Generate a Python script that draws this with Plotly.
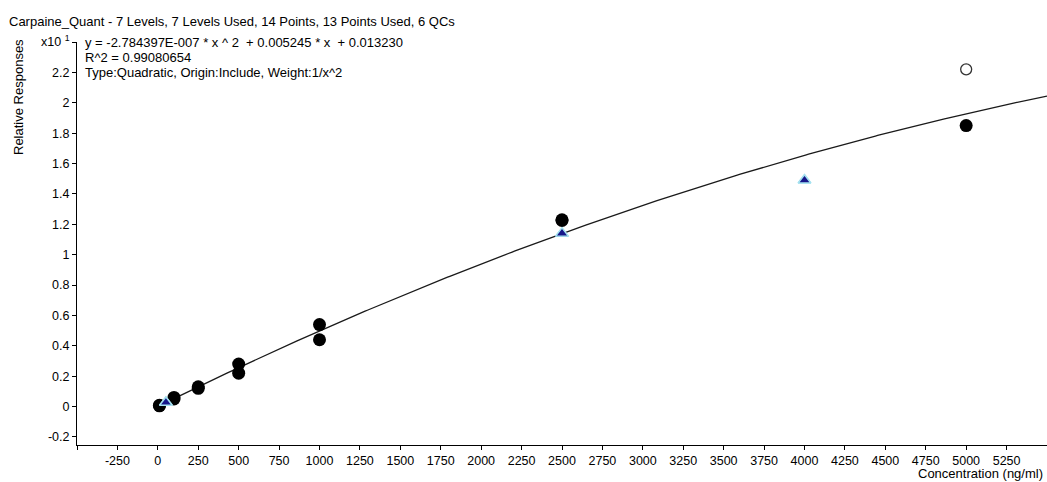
import numpy as np
import plotly.graph_objects as go

# Calibration levels (ng/ml) and relative responses (x10^1 display units)
cal_conc = [10, 10, 100, 100, 250, 250, 500, 500, 1000, 1000, 2500, 2500, 5000]
cal_resp = [0.005, 0.008, 0.060, 0.050, 0.120, 0.130, 0.280, 0.220, 0.540, 0.440, 1.230, 1.225, 1.850]

# Excluded calibration point
excl_conc = [5000]
excl_resp = [2.220]

# QC samples
qc_conc = [50, 50, 2500, 2500, 4000, 4000]
qc_resp = [0.027, 0.027, 1.140, 1.140, 1.490, 1.490]

# Quadratic fit coefficients: y = a*x^2 + b*x + c (raw units)
fit_a = -2.784397e-07
fit_b = 0.005245
fit_c = 0.013230
display_scale = 10.0

x_ticks = list(range(-500, 5251, 250))
x_labels = [""] + [str(v) for v in range(-250, 5251, 250)]
y_ticks = [-0.2, 0, 0.2, 0.4, 0.6, 0.8, 1, 1.2, 1.4, 1.6, 1.8, 2, 2.2, 2.4]
y_labels = ["-0.2", "0", "0.2", "0.4", "0.6", "0.8", "1", "1.2", "1.4", "1.6",
            "1.8", "2", "2.2", "x10 <sup>1</sup>"]

title_text = "Carpaine_Quant - 7 Levels, 7 Levels Used, 14 Points, 13 Points Used, 6 QCs"
eq_lines = [
    "y = -2.784397E-007 * x ^ 2\u00a0 + 0.005245 * x\u00a0 + 0.013230",
    "R^2 = 0.99080654",
    "Type:Quadratic, Origin:Include, Weight:1/x^2",
]

W, H = 1047, 482
L, R, T, B = 77, 0, 42, 37
pw, ph = W - L - R, H - T - B


def px(x):
    return (x - L) / pw


def py(y):
    return (H - B - y) / ph


fx = np.linspace(0, 5500, 400)
fy = (fit_a * fx ** 2 + fit_b * fx + fit_c) / display_scale

font = "Liberation Sans, Arial, sans-serif"

fig = go.Figure()
fig.add_trace(go.Scatter(x=fx, y=fy, mode="lines",
                         line=dict(color="#1a1a1a", width=1.3), hoverinfo="skip"))
fig.add_trace(go.Scatter(x=cal_conc, y=cal_resp, mode="markers",
                         marker=dict(symbol="circle", size=13, color="#000000",
                                     line=dict(width=0))))
fig.add_trace(go.Scatter(x=excl_conc, y=excl_resp, mode="markers",
                         marker=dict(symbol="circle", size=11, color="#ffffff",
                                     line=dict(width=1.3, color="#333333"))))
fig.add_trace(go.Scatter(x=qc_conc, y=qc_resp, mode="markers",
                         marker=dict(symbol="triangle-up", size=11, color="#16168a",
                                     line=dict(width=1.4, color="#a6e2f0"))))

annotations = [
    dict(text=title_text, x=px(7), y=py(22), xanchor="left", yanchor="middle"),
    dict(text="Relative Responses", x=px(19), y=py(97), xanchor="center",
         yanchor="middle", textangle=-90),
    dict(text="Concentration (ng/ml)", x=px(1045), y=py(473), xanchor="right",
         yanchor="middle"),
]
for i, line in enumerate(eq_lines):
    annotations.append(dict(text=line, x=px(83), y=py(42 + 15 * i),
                            xanchor="left", yanchor="middle"))
for a in annotations:
    a.update(xref="paper", yref="paper", showarrow=False,
             font=dict(family=font, size=13, color="#000000"))

fig.update_layout(
    width=W, height=H,
    margin=dict(l=L, r=R, t=T, b=B, pad=0),
    paper_bgcolor="white", plot_bgcolor="white",
    showlegend=False,
    font=dict(family=font, size=12, color="#000000"),
    annotations=annotations,
    xaxis=dict(range=[-500, 5500], tickvals=x_ticks, ticktext=x_labels,
               showgrid=False, zeroline=False, showline=True, linecolor="#000000",
               linewidth=1, ticks="outside", ticklen=4, tickcolor="#000000",
               tickfont=dict(family=font, size=12.5)),
    yaxis=dict(range=[-0.253, 2.4], tickvals=y_ticks, ticktext=y_labels,
               showgrid=False, zeroline=False, showline=True, linecolor="#000000",
               linewidth=1, ticks="outside", ticklen=4, tickcolor="#000000",
               tickfont=dict(family=font, size=12.5)),
)

fig.write_html("out.html")
